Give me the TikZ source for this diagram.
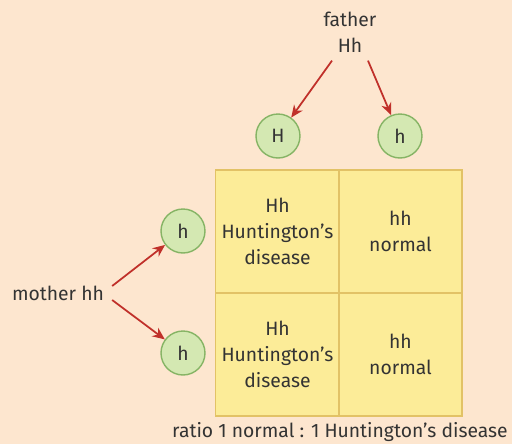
\documentclass[tikz,border=0pt]{standalone}
\usepackage{fontspec}
\setmainfont{Fira Sans}
\usetikzlibrary{arrows.meta, positioning, calc}
\definecolor{punnettbg}{HTML}{FDE6CF}
\definecolor{punnettcell}{HTML}{FCEC98}
\definecolor{punnettline}{HTML}{E2C266}
\definecolor{gametefill}{HTML}{D4E8B2}
\definecolor{gameteline}{HTML}{86B465}
\definecolor{punnettred}{HTML}{C0302A}
\definecolor{punnettdark}{HTML}{333333}

\begin{document}
\begin{tikzpicture}[
  x=0.02cm, y=-0.02cm,
  every node/.style={font=\fontsize{11}{15}\selectfont, text=punnettdark},
  gamete/.style={
    circle, minimum size=0.88cm, inner sep=0pt,
    draw=gameteline, line width=0.8pt, fill=gametefill
  },
  cellbox/.style={
    rectangle, minimum width=2.46cm, minimum height=2.46cm,
    draw=punnettline, line width=0.8pt, fill=punnettcell, align=center
  },
  arr/.style={-{Stealth[length=7pt, width=6pt]}, line width=1pt, punnettred}
]
  \fill[punnettbg] (0,0) rectangle (512,444);
  \useasboundingbox (0,0) rectangle (512,444);

  % parents
  \node[align=center] (father) at (350,32) {father\\Hh};
  \node (mother) at (58,293) {mother hh};

  % gametes
  \node[gamete] (fH) at (278,136) {H};
  \node[gamete] (fh) at (400,136) {h};
  \node[gamete] (mh1) at (183,231) {h};
  \node[gamete] (mh2) at (183,353) {h};

  % punnett square
  \node[cellbox] (c11) at (277.5,231.5) {Hh\\Huntington’s\\disease};
  \node[cellbox] (c12) at (400.5,231.5) {hh\\normal};
  \node[cellbox] (c21) at (277.5,354.5) {Hh\\Huntington’s\\disease};
  \node[cellbox] (c22) at (400.5,354.5) {hh\\normal};

  \draw[arr] ($(father.south)+(-18,2)$) -- (fH);
  \draw[arr] ($(father.south)+(18,2)$) -- (fh);
  \draw[arr] ($(mother.east)+(2,-7)$) -- (mh1);
  \draw[arr] ($(mother.east)+(2,7)$) -- (mh2);

  \node (ratio) at (340,432) {ratio 1 normal : 1 Huntington’s disease};
\end{tikzpicture}
\end{document}
